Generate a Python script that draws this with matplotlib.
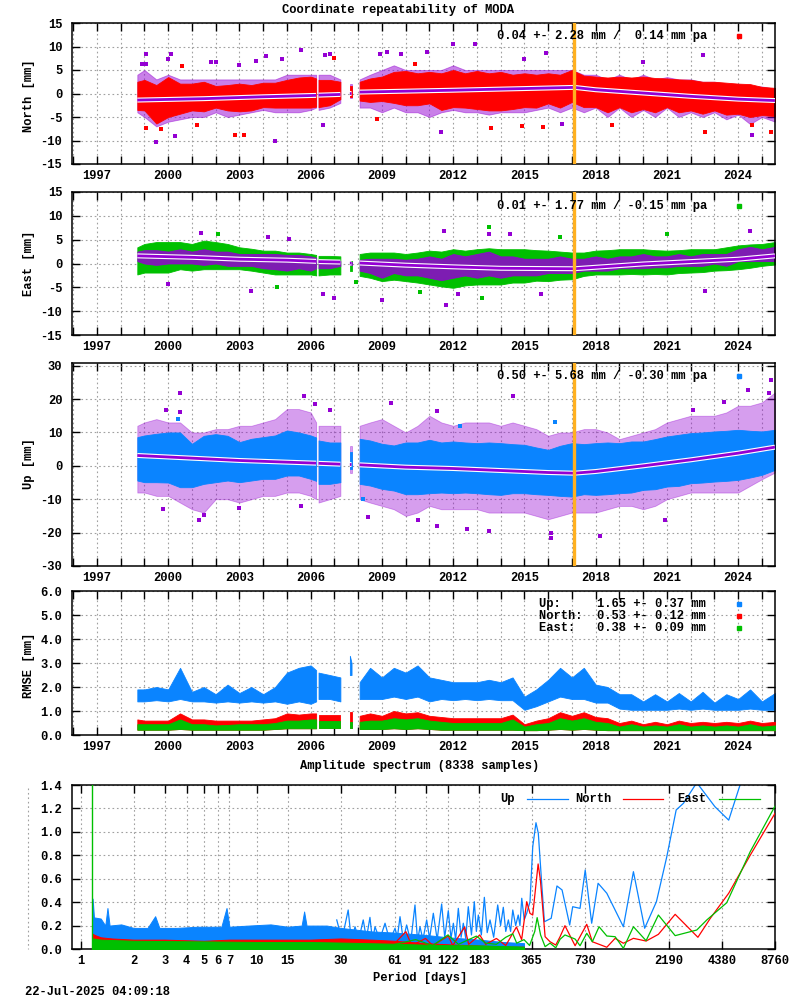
import numpy as np
import matplotlib
matplotlib.use("Agg")
import matplotlib.pyplot as plt
from matplotlib.lines import Line2D
from matplotlib.ticker import NullLocator

plt.rcParams['font.family'] = ['Liberation Mono', 'DejaVu Sans Mono']
plt.rcParams['font.weight'] = 'bold'
plt.rcParams['font.size'] = 8.7
plt.rcParams['axes.unicode_minus'] = False

# --------------
# Data

# epochs (decimal years) where the point clouds were read, per data segment
epoch = [1998.7, 1999.0, 1999.5, 2000.0, 2000.5, 2001.0, 2001.5, 2002.0, 2002.5,
         2003.0, 2003.5, 2004.0, 2004.5, 2005.0, 2005.5, 2006.0, 2006.23,
         2006.33, 2006.8, 2007.25,
         2007.65, 2007.72,
         2008.06, 2008.5, 2009.0, 2009.5, 2010.0, 2010.5, 2011.0, 2011.5, 2012.0, 2012.5, 2013.0, 2013.5,
         2014.0, 2014.5, 2015.0, 2015.5, 2016.0, 2016.5, 2017.0, 2017.5, 2018.0, 2018.5, 2019.0, 2019.5,
         2020.0, 2020.5, 2021.0, 2021.5, 2022.0, 2022.5, 2023.0, 2023.5, 2024.0, 2024.5, 2025.0, 2025.55]
segments = [(1998.7, 2006.23), (2006.33, 2007.25), (2007.65, 2007.72), (2008.06, 2025.55)]
break_year = 2017.1

# North [mm]: dense red cloud and purple cloud
north_hi = [2.5, 2.9, 1.8, 3.5, 2.1, 2.1, 2.5, 1.6, 1.8,
            2.1, 1.8, 2.3, 2.3, 2.9, 3.4, 3.6, 3.2,
            2.9, 2.9, 2.5,
            1.5, 1.5,
            2.5, 3.2, 3.6, 4.6, 4.8, 4.3, 4.6, 4.3, 5.0, 4.3, 4.8, 4.3,
            4.6, 4.0, 4.3, 4.0, 4.3, 4.0, 5.0, 3.8, 3.6, 3.4, 3.6, 3.4,
            3.6, 3.3, 3.2, 3.0, 2.9, 2.5, 2.5, 2.3, 2.1, 2.0, 1.4, 1.2]
north_lo = [-3.5, -3.6, -6.4, -5.0, -4.3, -3.6, -3.8, -3.0, -3.6,
            -3.8, -3.6, -2.9, -3.0, -3.0, -3.0, -3.0, -2.8,
            -2.9, -2.5, -1.2,
            -0.8, -0.8,
            -1.5, -1.8, -1.6, -2.0, -2.5, -2.5, -2.1, -3.5, -2.9, -3.0, -3.3, -3.6,
            -3.6, -3.3, -2.9, -3.0, -2.1, -3.0, -1.8, -2.9, -2.9, -4.0, -2.9, -4.0,
            -3.3, -4.0, -2.9, -4.0, -3.6, -4.3, -3.6, -4.5, -4.3, -5.0, -4.6, -4.8]
north_phi = [4, 5, 3, 4, 3, 3, 3, 3, 3,
             3, 3, 3, 3, 4, 4, 4, 4,
             4, 4, 3,
             2, 2,
             3, 4, 5, 6, 5, 5, 5, 5, 6, 5, 5, 5,
             5, 5, 5, 5, 5, 5, 5, 4, 4, 3, 4, 3,
             4, 3, 3.5, 3, 3, 2.5, 2.5, 2, 2, 1.5, 1.5, 1]
north_plo = [-4, -5, -7, -6, -5.5, -5, -5, -4, -5,
             -4.5, -4, -3.5, -4, -4, -4, -3.5, -3,
             -3.5, -3, -2,
             -1, -1,
             -3, -3, -4, -3, -4, -4, -5, -4, -3.5, -4, -4, -4.5,
             -4, -4, -4, -3.5, -3, -4, -3, -4, -3, -5, -3, -5,
             -3.5, -5, -3, -5, -4, -5, -4, -5.5, -4.5, -6.5, -5, -6]
north_trend_t = [1998.7, 2001.5, 2004.0, 2006.23, np.nan, 2006.33, 2007.25, np.nan, 2007.65, 2007.72, np.nan,
                 2008.06, 2012.0, 2017.1, 2018.0, 2020.0, 2022.0, 2024.0, 2025.55]
north_trend_v = [-1.4, -1.1, -0.7, -0.4, np.nan, -0.35, -0.2, np.nan, 0.0, 0.0, np.nan,
                 0.3, 0.7, 1.3, 0.8, 0.1, -0.6, -1.2, -1.5]
north_pout_t = [1999.06, 1998.88, 1999.06, 2000.1, 2000.0, 1999.5, 2000.3, 2001.8, 2002.0, 2003.0, 2003.7,
                2004.1, 2004.5, 2004.8, 2005.6, 2006.6, 2006.8, 2006.5, 2008.9, 2009.2, 2009.8, 2010.9,
                2011.5, 2012.0, 2012.9, 2015.0, 2015.9, 2022.5, 2024.6, 2016.6, 2020.0]
north_pout_v = [8.4, 6.2, 6.2, 8.4, 7.3, -10.4, -9.0, 6.6, 6.6, 6.1, 6.9,
                8.0, -10.0, 7.4, 9.2, 8.1, 8.4, -6.6, 8.4, 8.9, 8.4, 8.9,
                -8.1, 10.5, 10.5, 7.3, 8.6, 8.2, -8.9, -6.4, 6.8]
north_out_t = [1999.06, 2003.2, 2002.8, 2000.6, 2007.0, 2008.8, 2010.4, 2013.6, 2014.9, 2015.8,
               2018.7, 2022.6, 2025.4, 2024.6, 1999.7, 2001.2]
north_out_v = [-7.4, -8.8, -8.8, 5.9, 7.5, -5.5, 6.3, -7.4, -6.9, -7.1,
               -6.8, -8.1, -8.1, -6.6, -7.5, -6.8]

# East [mm]
east_hi = [3.4, 4.1, 4.5, 4.5, 4.5, 4.1, 4.8, 4.5, 4.1,
           3.4, 3.1, 2.7, 2.7, 2.3, 2.3, 2.0, 1.8,
           1.6, 1.6, 1.5,
           0.5, 0.5,
           2.0, 2.3, 2.3, 2.3, 2.0, 2.3, 2.7, 2.5, 3.0, 2.7, 3.0, 3.2,
           3.0, 3.0, 3.0, 2.8, 2.7, 2.5, 2.3, 2.3, 2.7, 2.8, 3.0, 3.0,
           3.0, 2.8, 2.7, 2.8, 3.0, 3.0, 3.0, 3.4, 3.8, 4.0, 4.1, 4.5]
east_lo = [-2.3, -1.9, -1.9, -1.9, -1.2, -1.5, -1.2, -1.2, -1.2,
           -1.2, -1.5, -1.9, -2.3, -2.3, -2.3, -2.3, -2.5,
           -2.5, -2.3, -2.3,
           -1.5, -1.5,
           -2.6, -3.0, -3.7, -3.4, -3.7, -4.0, -4.4, -4.8, -5.1, -4.6, -4.4, -4.4,
           -4.4, -4.0, -4.0, -3.6, -3.7, -3.4, -3.3, -2.6, -2.3, -2.3, -2.3, -2.2,
           -2.3, -2.2, -2.3, -2.0, -1.9, -1.8, -1.5, -1.4, -1.2, -0.9, -0.5, -0.2]
east_phi = [2.5, 2.8, 2.8, 2.5, 3.0, 2.5, 3.0, 2.5, 2.5,
            2.0, 2.0, 2.0, 2.0, 1.8, 1.8, 1.5, 1.2,
            0.8, 0.8, 0.5,
            0.3, 0.3,
            0.8, 1.0, 1.0, 1.0, 0.8, 1.0, 1.5, 1.0, 2.0, 1.5, 2.0, 2.5,
            1.5, 1.5, 1.0, 1.0, 1.0, 1.5, 1.0, 1.0, 1.5, 1.0, 1.5, 1.5,
            2.0, 1.5, 1.5, 2.0, 1.5, 2.0, 2.0, 2.0, 3.0, 3.5, 3.0, 3.5]
east_plo = [0.5, 0.0, -0.3, 0.0, 0.0, 0.0, -0.3, 0.0, -0.5,
            -0.5, -0.5, -1.0, -1.2, -1.5, -1.0, -1.5, -1.0,
            -1.0, -1.0, -0.5,
            -0.3, -0.3,
            -1.5, -2.0, -3.0, -2.0, -2.5, -2.5, -3.0, -3.5, -3.0, -2.5, -3.0, -2.5,
            -3.0, -2.5, -2.5, -2.5, -2.0, -2.0, -2.0, -1.5, -1.5, -1.5, -1.0, -1.0,
            -1.0, -0.8, -0.8, -0.5, -0.5, -0.5, 0.0, -0.5, 0.5, 0.5, 0.5, 0.5]
east_trend_t = [1998.7, 2001.0, 2003.0, 2005.0, 2006.23, np.nan, 2006.33, 2007.25, np.nan, 2007.65, 2007.72, np.nan,
                2008.06, 2010.0, 2012.0, 2014.0, 2017.1, 2020.0, 2022.0, 2024.0, 2025.55]
east_trend_v = [1.6, 1.3, 0.9, 0.7, 0.45, np.nan, 0.4, 0.3, np.nan, 0.1, 0.1, np.nan,
                0.1, -0.35, -0.7, -1.0, -1.1, -0.1, 0.4, 0.9, 1.6]
east_pout_t = [2001.4, 2004.2, 2005.1, 2003.5, 2000.0, 2006.5, 2007.0, 2009.0, 2011.6, 2011.7,
               2013.5, 2014.4, 2015.7, 2022.6, 2024.5, 2012.2]
east_pout_v = [6.4, 5.5, 5.2, -5.8, -4.4, -6.4, -7.2, -7.7, 6.8, -8.7,
               6.2, 6.1, -6.5, -5.8, 6.8, -6.5]
east_out_t = [2002.1, 2007.9, 2004.6, 2013.5, 2021.0, 2013.2, 2010.6, 2016.5]
east_out_v = [6.2, -3.8, -4.9, 7.7, 6.1, -7.2, -6.0, 5.5]

# Up [mm]
up_hi = [8.6, 9.1, 9.6, 10.0, 10.0, 6.6, 9.0, 9.5, 9.0,
         7.1, 8.1, 8.6, 9.1, 10.6, 10.0, 9.1, 8.5,
         7.6, 7.0, 7.0,
         4.0, 4.0,
         8.1, 7.6, 6.6, 6.1, 7.0, 7.0, 7.8, 7.0, 7.3, 7.0, 6.8, 7.0,
         6.8, 6.5, 6.3, 5.5, 4.8, 6.0, 6.8, 6.5, 6.8, 7.0, 6.8, 7.3,
         7.3, 8.0, 8.8, 9.3, 9.8, 10.0, 10.3, 10.5, 10.8, 10.5, 10.3, 10.8]
up_lo = [-4.4, -4.9, -4.9, -5.0, -6.4, -6.4, -5.4, -4.9, -4.4,
         -4.9, -4.4, -3.9, -3.9, -2.9, -2.9, -3.9, -4.5,
         -5.4, -5.4, -4.9,
         -1.0, -1.0,
         -5.4, -5.9, -6.9, -7.4, -8.5, -8.5, -8.2, -8.0, -8.2, -8.0, -8.2, -8.5,
         -8.7, -8.2, -8.2, -8.5, -8.7, -9.0, -9.2, -8.5, -8.7, -8.5, -8.2, -8.0,
         -7.2, -7.0, -6.2, -6.0, -5.2, -5.0, -4.7, -4.5, -4.2, -3.5, -2.7, -1.2]
up_phi = [12, 13, 14, 13, 13, 10, 10, 11, 11,
          12, 12, 13, 14, 17, 17, 16, 13,
          12, 12, 12,
          6, 6,
          12, 13, 14, 12, 10, 12, 15, 13, 12, 13, 13, 13,
          12, 13, 12, 11, 9, 10, 10, 11, 11, 10, 8, 9,
          10, 11, 13, 14, 15, 15, 15, 16, 18, 18, 19, 22]
up_plo = [-8, -8, -9, -9, -11, -13, -14, -10, -10,
          -11, -10, -9, -9, -8, -8, -9, -10,
          -11, -10, -9,
          -2, -2,
          -10, -11, -12, -13, -15, -14, -12, -13, -13, -13, -13, -14,
          -14, -14, -14, -15, -16, -15, -14, -14, -14, -13, -12, -12,
          -13, -12, -10, -9, -8, -8, -8, -8, -8, -6, -4, -2]
up_trend_t = [1998.7, 2001.0, 2003.0, 2005.0, 2006.23, np.nan, 2006.33, 2007.25, np.nan, 2007.65, 2007.72, np.nan,
              2008.06, 2010.0, 2012.0, 2014.0, 2016.0, 2017.1, 2018.0, 2020.0, 2022.0, 2024.0, 2025.55]
up_trend_v = [3.1, 2.3, 1.6, 1.1, 0.8, np.nan, 0.75, 0.5, np.nan, 0.4, 0.4, np.nan,
              0.3, -0.4, -0.8, -1.4, -2.0, -2.2, -1.7, 0.0, 1.8, 3.8, 5.6]
up_pout_t = [2000.5, 2005.7, 1999.9, 2000.5, 2006.2, 2006.8, 2001.3, 2001.5, 1999.8, 2009.4, 2008.4,
             2010.5, 2005.6, 2003.0, 2011.3, 2014.5, 2016.1, 2016.1, 2018.2, 2024.4, 2025.4, 2025.3,
             2023.4, 2013.5, 2011.3, 2012.6, 2020.9, 2022.1]
up_pout_v = [21.7, 20.9, 16.7, 16.0, 18.4, 16.7, -16.2, -14.8, -13.0, 18.7, -15.3,
             -16.3, -12.0, -12.7, 16.5, 21.0, -21.7, -20.2, -20.9, 22.8, 25.8, 21.8,
             19.0, -19.5, -18.0, -18.9, -16.2, 16.8]
up_out_t = [2000.4, 2012.3, 2016.3, 2008.2]
up_out_v = [14, 12, 13, -10]

# RMSE [mm]
up_rms_hi = [1.9, 1.9, 2.0, 1.9, 2.8, 1.8, 2.0, 1.7, 2.1,
             1.75, 2.0, 1.7, 2.0, 2.6, 2.8, 2.9, 2.7,
             2.6, 2.5, 2.4,
             3.3, 3.0,
             2.2, 2.8, 2.4, 2.8, 2.6, 2.9, 2.4, 2.3, 2.2, 2.2, 2.2, 2.3,
             2.2, 2.4, 1.6, 1.9, 2.3, 2.8, 2.4, 2.8, 2.1, 2.0, 1.7, 1.7,
             1.4, 1.7, 1.4, 1.75, 1.4, 1.8, 1.35, 1.7, 1.5, 1.9, 1.4, 1.75]
up_rms_lo = [1.4, 1.4, 1.45, 1.4, 1.5, 1.4, 1.4, 1.35, 1.4,
             1.35, 1.4, 1.35, 1.4, 1.3, 1.4, 1.3, 1.4,
             1.5, 1.5, 1.4,
             2.5, 2.5,
             1.5, 1.5, 1.5, 1.6, 1.5, 1.6, 1.4, 1.5, 1.45, 1.5, 1.45, 1.5,
             1.45, 1.45, 1.05, 1.2, 1.4, 1.6, 1.5, 1.5, 1.35, 1.35, 1.1, 1.05,
             1.05, 1.05, 1.05, 1.1, 1.05, 1.1, 1.05, 1.05, 1.05, 1.1, 1.05, 1.05]
north_rms_hi = [0.65, 0.6, 0.6, 0.6, 0.9, 0.65, 0.65, 0.6, 0.6,
                0.6, 0.6, 0.65, 0.7, 0.9, 0.85, 0.9, 0.9,
                0.85, 0.85, 0.85,
                0.95, 0.95,
                0.8, 0.9, 0.8, 1.0, 0.9, 0.95, 0.8, 0.75, 0.7, 0.7, 0.7, 0.7,
                0.7, 0.85, 0.45, 0.6, 0.7, 0.95, 0.8, 0.95, 0.75, 0.7, 0.5, 0.6,
                0.45, 0.55, 0.45, 0.6, 0.5, 0.55, 0.5, 0.55, 0.5, 0.6, 0.5, 0.55]
east_rms_hi = [0.45, 0.45, 0.45, 0.45, 0.65, 0.45, 0.45, 0.4, 0.42,
               0.45, 0.45, 0.45, 0.5, 0.6, 0.6, 0.65, 0.65,
               0.6, 0.6, 0.6,
               0.55, 0.55,
               0.55, 0.6, 0.6, 0.7, 0.65, 0.7, 0.6, 0.55, 0.5, 0.5, 0.5, 0.5,
               0.5, 0.65, 0.35, 0.45, 0.5, 0.7, 0.6, 0.7, 0.55, 0.5, 0.35, 0.45,
               0.35, 0.4, 0.35, 0.45, 0.35, 0.4, 0.35, 0.4, 0.35, 0.45, 0.35, 0.4]
east_rms_lo = [0.22, 0.22, 0.22, 0.22, 0.25, 0.22, 0.22, 0.22, 0.22,
               0.22, 0.22, 0.22, 0.25, 0.28, 0.28, 0.28, 0.28,
               0.28, 0.28, 0.28,
               0.3, 0.3,
               0.25, 0.25, 0.25, 0.28, 0.25, 0.28, 0.25, 0.22, 0.22, 0.22, 0.22, 0.22,
               0.22, 0.22, 0.2, 0.2, 0.22, 0.25, 0.22, 0.25, 0.22, 0.2, 0.2, 0.2,
               0.2, 0.2, 0.2, 0.2, 0.2, 0.2, 0.2, 0.2, 0.2, 0.2, 0.2, 0.2]

# Amplitude spectrum: dense part (envelope) and resolved part (line) per component
spec_ticks = [1, 2, 3, 4, 5, 6, 7, 10, 15, 30, 61, 91, 122, 183, 365, 730, 2190, 4380, 8760]
up_fill_p = [1.16, 1.17, 1.19, 1.3, 1.38, 1.42, 1.46, 1.7, 2.0, 2.4, 2.65, 2.8, 3.5, 4.6, 6.3, 6.74, 7.0,
             9.0, 12.0, 15.0, 18.0, 18.6, 19.2, 25.0, 30.0, 45.0, 61.0, 91.0, 122.0, 183.0, 250.0, 330.0]
up_fill_a = [0.0, 0.43, 0.27, 0.26, 0.2, 0.35, 0.2, 0.21, 0.18, 0.18, 0.28, 0.18, 0.18, 0.19, 0.19, 0.35, 0.19,
             0.2, 0.21, 0.19, 0.2, 0.32, 0.2, 0.2, 0.18, 0.15, 0.14, 0.12, 0.1, 0.08, 0.06, 0.05]
up_line_p = [28.5, 30.5, 33.1, 34.5, 36.2, 38, 40.3, 42, 44.0, 45.5, 47.0, 50, 53.6, 57, 61.1, 63, 65.2, 68,
             71.1, 75, 79.3, 82, 84.7, 88, 92.4, 96, 100.8, 106, 112.4, 117, 122.6, 127, 131, 135, 139.8,
             145, 149.2, 154, 159.3, 166, 172.3, 177, 181.6, 189, 196.5, 204, 211.6, 222, 234, 243, 251.8,
             260, 269, 277, 285, 296, 306, 313, 320.5, 331, 342, 357, 370, 386, 398, 416, 431, 471, 508,
             543, 600, 624, 687, 735, 800, 870, 975, 1211, 1381, 1600, 1866, 2137, 2416, 2657, 3162, 4010,
             4803, 5570, 8800]
up_line_a = [0.248, 0.08, 0.333, 0.07, 0.19, 0.08, 0.248, 0.09, 0.27, 0.07, 0.19, 0.08, 0.22, 0.07, 0.177,
             0.1, 0.276, 0.08, 0.205, 0.06, 0.376, 0.07, 0.19, 0.08, 0.248, 0.09, 0.305, 0.08, 0.384, 0.1,
             0.327, 0.09, 0.22, 0.08, 0.347, 0.1, 0.22, 0.09, 0.361, 0.12, 0.404, 0.15, 0.29, 0.12, 0.441,
             0.14, 0.248, 0.1, 0.376, 0.2, 0.356, 0.15, 0.248, 0.15, 0.333, 0.2, 0.29, 0.2, 0.433, 0.25,
             0.305, 0.404, 0.873, 1.078, 0.988, 0.561, 0.233, 0.262, 0.538, 0.504, 0.205, 0.361, 0.347,
             0.674, 0.22, 0.561, 0.476, 0.19, 0.66, 0.177, 0.404, 0.788, 1.187, 1.244, 1.42, 1.215, 1.10,
             1.40, 2.6]
north_fill_p = [1.16, 1.17, 1.2, 1.3, 1.5, 2, 3, 5, 7, 10, 15, 20, 30, 45, 61, 91, 122, 183, 250, 330]
north_fill_a = [0.0, 0.13, 0.12, 0.1, 0.09, 0.08, 0.08, 0.07, 0.08, 0.08, 0.08, 0.08, 0.09, 0.08, 0.07,
                0.05, 0.04, 0.03, 0.02, 0.02]
north_line_p = [61, 70.4, 76, 91, 100, 122.6, 130, 152, 160, 185, 200, 230, 260, 299, 320, 342, 357, 370,
                397, 409, 435, 464, 500, 529, 564, 644, 750, 807, 975, 1087, 1211, 1381, 1630, 1914, 2384,
                3210, 3776, 4803, 6360, 8800]
north_line_a = [0.05, 0.148, 0.03, 0.09, 0.03, 0.111, 0.03, 0.188, 0.04, 0.119, 0.04, 0.09, 0.03, 0.188,
                0.08, 0.404, 0.304, 0.29, 0.726, 0.589, 0.105, 0.062, 0.034, 0.105, 0.199, 0.028, 0.211,
                0.062, 0.015, 0.091, 0.049, 0.091, 0.068, 0.125, 0.296, 0.10, 0.262, 0.476, 0.80, 1.158]
east_fill_p = [1.16, 1.17, 1.3, 2, 5, 10, 20, 30, 60, 100, 200, 330]
east_fill_a = [0.0, 0.09, 0.08, 0.07, 0.065, 0.06, 0.06, 0.055, 0.045, 0.035, 0.03, 0.02]
east_line_p = [61, 80, 100, 122, 140, 177, 200, 230, 260, 285, 300, 330, 355, 380, 392, 410, 435, 464, 500,
               529, 564, 644, 687, 750, 807, 881, 975, 1087, 1211, 1381, 1630, 1914, 2384, 3162, 3606,
               4680, 6360, 8800]
east_line_a = [0.04, 0.08, 0.03, 0.12, 0.04, 0.11, 0.05, 0.04, 0.1, 0.13, 0.05, 0.08, 0.03, 0.15, 0.268,
               0.12, 0.02, 0.05, 0.01, 0.083, 0.12, 0.085, 0.028, 0.134, 0.062, 0.19, 0.111, 0.105, 0.006,
               0.19, 0.071, 0.29, 0.114, 0.162, 0.248, 0.395, 0.83, 1.22]
east_spike_p = 1.163
east_spike_a = 1.6

# colours
red = '#ff0000'
green = '#00c000'
blue = '#0a84ff'
purple = '#9400d3'
orange = '#ffb020'
gridc = '#a0a0a0'
dots = (0, (1.5, 2.5))

t = np.array(epoch)


def band(ax, lo, hi, color, alpha=1.0, zorder=2):
    lo = np.array(lo, dtype=float)
    hi = np.array(hi, dtype=float)
    for s0, s1 in segments:
        m = (t >= s0 - 1e-6) & (t <= s1 + 1e-6)
        ax.fill_between(t[m], lo[m], hi[m], color=color, alpha=alpha, lw=0.6, zorder=zorder)


def time_axis(ax, ymin, ymax, ystep, fmt):
    ax.set_xlim(1995.95, 2025.55)
    ax.set_ylim(ymin, ymax)
    years = np.arange(1996, 2026)
    ax.set_xticks(years)
    ax.set_xticklabels([str(y) if (y - 1997) % 3 == 0 else '' for y in years])
    yt = np.arange(ymin, ymax + ystep / 2, ystep)
    yt = yt[yt <= ymax]
    ax.set_yticks(yt)
    ax.set_yticklabels([fmt % v for v in yt])
    ax.grid(True, color=gridc, linestyle=dots, linewidth=0.8)
    ax.set_axisbelow(True)
    ax.tick_params(direction='in', top=True, right=True, length=6, width=1)
    ax.tick_params(axis='x', pad=4)
    ax.tick_params(axis='y', pad=7)
    for s in ax.spines.values():
        s.set_linewidth(1.1)


def trend(ax, tt, vv):
    ax.plot(tt, vv, color='white', lw=3.6, zorder=5, solid_capstyle='butt')
    ax.plot(tt, vv, color=purple, lw=2.0, zorder=6, solid_capstyle='butt')


def key(fig, text, y_px, color):
    fig.text(707 / 800, 1 - y_px / 1000, text, ha='right', va='center')
    fig.add_artist(Line2D([739 / 800], [1 - y_px / 1000], transform=fig.transFigure, marker='s',
                          markersize=2.6, color=color, lw=0))


#Add figure
fig = plt.figure(figsize=(8, 10), dpi=100)

L = 72 / 800
W = 703 / 800
ax_n = fig.add_axes([L, 1 - 164 / 1000, W, 141 / 1000])
ax_e = fig.add_axes([L, 1 - 335 / 1000, W, 143 / 1000])
ax_u = fig.add_axes([L, 1 - 566 / 1000, W, 203 / 1000])
ax_r = fig.add_axes([L, 1 - 735 / 1000, W, 144 / 1000])
ax_s = fig.add_axes([L, 1 - 949 / 1000, W, 164 / 1000])

ms = 2.4

# North
time_axis(ax_n, -15, 15, 5, '%d')
band(ax_n, north_plo, north_phi, purple, alpha=0.5, zorder=1.5)
band(ax_n, north_lo, north_hi, red, zorder=2)
ax_n.plot(north_pout_t, north_pout_v, 's', color=purple, ms=ms, mew=0, zorder=3)
ax_n.plot(north_out_t, north_out_v, 's', color=red, ms=ms, mew=0, zorder=3)
trend(ax_n, north_trend_t, north_trend_v)
ax_n.axvline(break_year, color=orange, lw=2.4, zorder=7)

# East
time_axis(ax_e, -15, 15, 5, '%d')
band(ax_e, east_lo, east_hi, green, zorder=2)
band(ax_e, east_plo, east_phi, purple, alpha=0.85, zorder=2.5)
ax_e.plot(east_pout_t, east_pout_v, 's', color=purple, ms=ms, mew=0, zorder=3)
ax_e.plot(east_out_t, east_out_v, 's', color=green, ms=ms, mew=0, zorder=3)
trend(ax_e, east_trend_t, east_trend_v)
ax_e.axvline(break_year, color=orange, lw=2.4, zorder=7)

# Up
time_axis(ax_u, -30, 30.8, 10, '%d')
band(ax_u, up_plo, up_phi, purple, alpha=0.38, zorder=1.5)
band(ax_u, up_lo, up_hi, blue, zorder=2)
ax_u.plot(up_pout_t, up_pout_v, 's', color=purple, ms=ms, mew=0, zorder=3)
ax_u.plot(up_out_t, up_out_v, 's', color=blue, ms=ms, mew=0, zorder=3)
trend(ax_u, up_trend_t, up_trend_v)
ax_u.axvline(break_year, color=orange, lw=2.4, zorder=7)

# RMSE
time_axis(ax_r, 0, 6, 1, '%.1f')
band(ax_r, up_rms_lo, up_rms_hi, blue, zorder=2)
band(ax_r, east_rms_lo, north_rms_hi, red, zorder=3)
band(ax_r, east_rms_lo, east_rms_hi, green, zorder=4)

# Spectrum
ax_s.set_xscale('log')
ax_s.set_xlim(0.893, 8800)
ax_s.set_ylim(0, 1.4)
ax_s.set_xticks(spec_ticks)
ax_s.set_xticklabels([str(p) for p in spec_ticks])
ax_s.xaxis.set_minor_locator(NullLocator())
yt = np.arange(0, 1.41, 0.2)
ax_s.set_yticks(yt)
ax_s.set_yticklabels(['%.1f' % v for v in yt])
ax_s.grid(True, color=gridc, linestyle=dots, linewidth=0.8)
ax_s.set_axisbelow(True)
ax_s.tick_params(direction='in', top=True, right=True, length=6, width=1)
ax_s.tick_params(axis='x', pad=4)
ax_s.tick_params(axis='y', pad=7)
for s in ax_s.spines.values():
    s.set_linewidth(1.1)

ax_s.fill_between(up_fill_p, 0, up_fill_a, color=blue, lw=0.7, zorder=2)
ax_s.plot(up_line_p, up_line_a, color=blue, lw=0.9, zorder=2)
ax_s.fill_between(north_fill_p, 0, north_fill_a, color=red, lw=0.7, zorder=3)
ax_s.plot(north_line_p, north_line_a, color=red, lw=0.9, zorder=3)
ax_s.fill_between(east_fill_p, 0, east_fill_a, color=green, lw=0.7, zorder=4)
ax_s.plot(east_line_p, east_line_a, color=green, lw=0.9, zorder=4)
ax_s.vlines(east_spike_p, 0, east_spike_a, color=green, lw=1.0, zorder=4)

# spectrum key
ky = (949 - 799) / 164
for name, col, tx, x0, x1 in [('Up', blue, 515, 527, 568), ('North', red, 611, 623, 663),
                              ('East', green, 706, 719, 760)]:
    ax_s.text((tx - 72) / 703, ky, name, transform=ax_s.transAxes, ha='right', va='center', zorder=8)
    ax_s.add_line(Line2D([(x0 - 72) / 703, (x1 - 72) / 703], [ky, ky], transform=ax_s.transAxes,
                         color=col, lw=0.9, zorder=8))

# stray dotted line left of the spectrum
fig.add_artist(Line2D([28 / 800, 28 / 800], [1 - 788 / 1000, 1 - 949 / 1000], transform=fig.transFigure,
                      color=gridc, linestyle=dots, lw=0.8))

# keys of the time series
key(fig, '0.04 +- 2.28 mm /  0.14 mm pa', 36, red)
key(fig, '0.01 +- 1.77 mm / -0.15 mm pa', 206, green)
key(fig, '0.50 +- 5.68 mm / -0.30 mm pa', 376, blue)
fig.text(539 / 800, 1 - 604 / 1000, 'Up:     1.65 +- 0.37 mm', ha='left', va='center')
fig.text(539 / 800, 1 - 616 / 1000, 'North:  0.53 +- 0.12 mm', ha='left', va='center')
fig.text(539 / 800, 1 - 628 / 1000, 'East:   0.38 +- 0.09 mm', ha='left', va='center')
for yy, col in [(604, blue), (616, red), (628, green)]:
    fig.add_artist(Line2D([739 / 800], [1 - yy / 1000], transform=fig.transFigure, marker='s',
                          markersize=2.6, color=col, lw=0))

# titles and labels
fig.text(397.5 / 800, 1 - 10 / 1000, 'Coordinate repeatability of MODA', ha='center', va='center')
fig.text(419.5 / 800, 1 - 766 / 1000, 'Amplitude spectrum (8338 samples)', ha='center', va='center')
fig.text(420 / 800, 1 - 978 / 1000, 'Period [days]', ha='center', va='center')
fig.text(25 / 800, 1 - 992 / 1000, '22-Jul-2025 04:09:18', ha='left', va='center')
for lab, yc in [('North [mm]', 96), ('East [mm]', 263), ('Up [mm]', 464), ('RMSE [mm]', 665)]:
    fig.text(29 / 800, 1 - yc / 1000, lab, rotation=90, ha='center', va='center')

fig.savefig('out.png', dpi=100)
